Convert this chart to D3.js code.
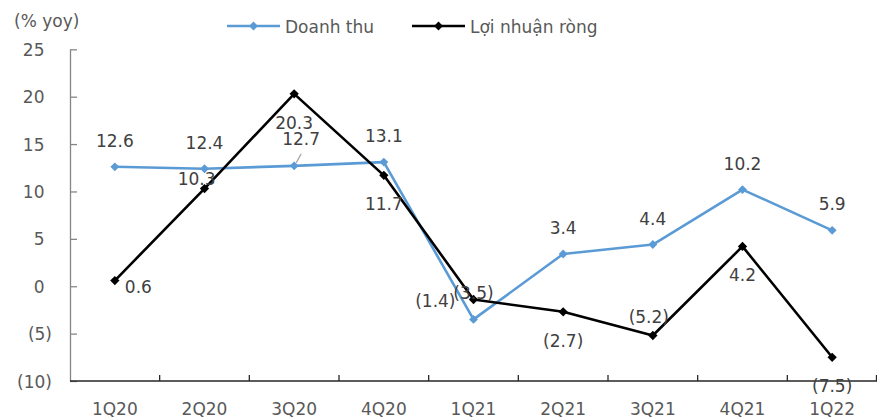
<!DOCTYPE html>
<html>
<head>
<meta charset="utf-8">
<script src="https://cdn.jsdelivr.net/npm/d3@7/dist/d3.min.js"></script>
<style>
  html, body { margin: 0; padding: 0; background: #fff; }
  svg { display: block; font-family: "DejaVu Sans", Verdana, sans-serif; }
</style>
</head>
<body>
<svg id="chart" width="877" height="420"></svg>
<script>
// Quarterly growth, % year over year
const quarters = ["1Q20", "2Q20", "3Q20", "4Q20", "1Q21", "2Q21", "3Q21", "4Q21", "1Q22"];
const revenue = [12.6, 12.4, 12.7, 13.1, -3.5, 3.4, 4.4, 10.2, 5.9];
const netProfit = [0.6, 10.3, 20.3, 11.7, -1.4, -2.7, -5.2, 4.2, -7.5];
const yTicks = [-10, -5, 0, 5, 10, 15, 20, 25];
const seriesNames = ["Doanh thu", "Lợi nhuận ròng"];
const unitLabel = "(% yoy)";

// Where each data label sits relative to its point
const revenueLabelPos = ["above", "above", "leader", "above", "above", "above", "above", "above", "above"];
const profitLabelPos = ["right", "upleft", "below", "below", "left", "below", "aboveTight", "below", "below"];

const FS = 17;
const svg = d3.select("#chart");
const plotLeft = 70, plotRight = 877, plotTop = 49.3, plotBottom = 381;

const x = d3.scaleBand().domain(quarters).range([plotLeft, plotRight]).padding(0);
const cx = q => x(q) + x.bandwidth() / 2;
const y = d3.scaleLinear().domain([-10, 25]).range([plotBottom, plotTop]);

const fmt = v => v < 0 ? `(${Math.abs(v).toFixed(1)})` : v.toFixed(1);
const fmtTick = v => v < 0 ? `(${Math.abs(v)})` : `${v}`;

// Y axis: gray line with inward ticks, labels in accounting style
const yAxis = svg.append("g").attr("transform", `translate(${plotLeft},0)`)
  .call(d3.axisLeft(y).tickValues(yTicks).tickSize(-7).tickSizeOuter(0).tickFormat(fmtTick));
yAxis.select(".domain").attr("stroke", "#868686").attr("stroke-width", 1.3);
yAxis.selectAll(".tick line").attr("stroke", "#868686").attr("stroke-width", 1.3);
yAxis.selectAll(".tick text")
  .attr("font-size", FS).attr("fill", "#595959")
  .attr("font-family", "DejaVu Sans, sans-serif")
  .attr("x", d => d < 0 ? -18 : -25.5)
  .attr("dy", "0.36em");

// X axis: dark line with upward ticks at category boundaries
const xAxis = svg.append("g").attr("transform", `translate(0,${plotBottom})`);
xAxis.append("line").attr("x1", plotLeft).attr("x2", plotRight).attr("y1", 0).attr("y2", 0)
  .attr("stroke", "#262626").attr("stroke-width", 1.3);
const bounds = quarters.map(q => x(q)).concat([plotRight - 0.5]);
xAxis.selectAll("line.tk").data(bounds.slice(1)).join("line").attr("class", "tk")
  .attr("x1", d => d).attr("x2", d => d).attr("y1", 0).attr("y2", -6)
  .attr("stroke", "#262626").attr("stroke-width", 1.3);
xAxis.selectAll("text").data(quarters).join("text")
  .attr("x", d => cx(d)).attr("y", 34)
  .attr("text-anchor", "middle").attr("font-size", FS).attr("fill", "#595959")
  .text(d => d);

// Unit label
svg.append("text").attr("x", 14).attr("y", 27).attr("font-size", FS).attr("fill", "#595959").text(unitLabel);

const diamond = d3.symbol().type(d3.symbolDiamond2);

function drawSeries(values, color, size) {
  const pts = values.map((v, i) => [cx(quarters[i]), y(v)]);
  svg.append("path").attr("d", d3.line()(pts))
    .attr("fill", "none").attr("stroke", color).attr("stroke-width", 2.6)
    .attr("stroke-linejoin", "round");
  svg.append("g").selectAll("path").data(pts).join("path")
    .attr("transform", d => `translate(${d[0]},${d[1]})`)
    .attr("d", diamond.size(size)())
    .attr("fill", color);
}

drawSeries(revenue, "#5B9BD5", 50);
drawSeries(netProfit, "#000000", 55);

function drawLabels(values, placement) {
  const g = svg.append("g").attr("font-size", FS).attr("fill", "#404040");
  values.forEach((v, i) => {
    const px = cx(quarters[i]), py = y(v);
    let tx = px, ty = py, anchor = "middle";
    switch (placement[i]) {
      case "above": ty = py - 20; break;
      case "below": ty = py + 35; break;
      case "right": tx = px + 10; ty = py + 12; anchor = "start"; break;
      case "left": tx = px - 18; ty = py + 8; anchor = "end"; break;
      case "upleft": tx = px + 11; ty = py - 4; anchor = "end"; break;
      case "aboveTight": tx = px - 4; ty = py - 13; break;
      case "leader":
        tx = px + 7; ty = py - 21;
        svg.append("line").attr("x1", px + 7).attr("y1", py - 12)
          .attr("x2", px + 2).attr("y2", py - 3)
          .attr("stroke", "#a6a6a6").attr("stroke-width", 1.2);
        break;
    }
    g.append("text").attr("x", tx).attr("y", ty).attr("text-anchor", anchor).text(fmt(v));
  });
}

drawLabels(netProfit, profitLabelPos);
drawLabels(revenue, revenueLabelPos);

// Legend
const legend = [
  { name: seriesNames[0], color: "#5B9BD5", x0: 227 },
  { name: seriesNames[1], color: "#000000", x0: 412 }
];
const lg = svg.append("g");
legend.forEach(d => {
  lg.append("line").attr("x1", d.x0).attr("x2", d.x0 + 53).attr("y1", 26).attr("y2", 26)
    .attr("stroke", d.color).attr("stroke-width", 2.6);
  lg.append("path").attr("transform", `translate(${d.x0 + 26.5},26)`)
    .attr("d", diamond.size(50)()).attr("fill", d.color);
  lg.append("text").attr("x", d.x0 + 58).attr("y", 33)
    .attr("font-size", FS).attr("fill", "#595959").text(d.name);
});
</script>
</body>
</html>
